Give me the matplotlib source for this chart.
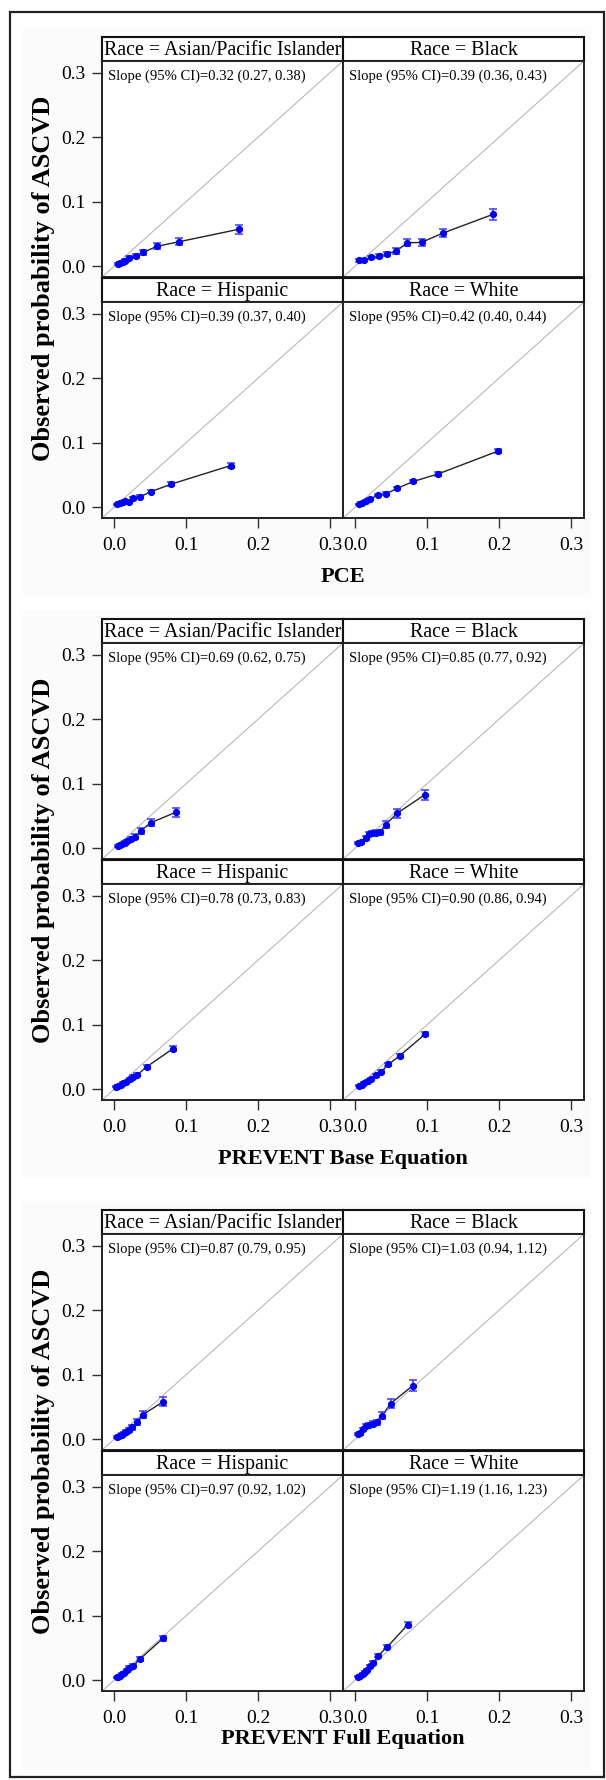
"""Calibration plots by race: observed ASCVD probability vs predicted risk (PCE, PREVENT base, PREVENT full)."""
import matplotlib
matplotlib.use("Agg")
import matplotlib.pyplot as plt
from matplotlib.patches import Rectangle
from matplotlib.ticker import FormatStrFormatter

plt.rcParams["font.family"] = ["Liberation Serif", "DejaVu Serif"]

W, H = 606, 1780

RACES = ["Asian/Pacific Islander", "Black", "Hispanic", "White"]
EQUATIONS = ["PCE", "PREVENT Base Equation", "PREVENT Full Equation"]
SLOPES = [
    ["0.32 (0.27, 0.38)", "0.39 (0.36, 0.43)", "0.39 (0.37, 0.40)", "0.42 (0.40, 0.44)"],
    ["0.69 (0.62, 0.75)", "0.85 (0.77, 0.92)", "0.78 (0.73, 0.83)", "0.90 (0.86, 0.94)"],
    ["0.87 (0.79, 0.95)", "1.03 (0.94, 1.12)", "0.97 (0.92, 1.02)", "1.19 (1.16, 1.23)"],
]
TICKS = [0.0, 0.1, 0.2, 0.3]

# --- PCE ---
pce_asian_x = [0.0046, 0.008, 0.0117, 0.015, 0.021, 0.030, 0.040, 0.059, 0.090, 0.173]
pce_asian_y = [0.0036, 0.0047, 0.0062, 0.0083, 0.0129, 0.0155, 0.0212, 0.0305, 0.0377, 0.057]
pce_asian_err = [0.0015, 0.0015, 0.0017, 0.002, 0.0025, 0.003, 0.0035, 0.0045, 0.0055, 0.007]
pce_black_x = [0.005, 0.0115, 0.022, 0.033, 0.0445, 0.057, 0.072, 0.092, 0.122, 0.191]
pce_black_y = [0.0088, 0.0093, 0.0134, 0.015, 0.019, 0.0233, 0.036, 0.0367, 0.0512, 0.080]
pce_black_err = [0.002, 0.002, 0.0025, 0.003, 0.0035, 0.004, 0.0055, 0.0055, 0.006, 0.008]
pce_hisp_x = [0.0042, 0.008, 0.0117, 0.015, 0.020, 0.0264, 0.036, 0.0506, 0.079, 0.162]
pce_hisp_y = [0.0042, 0.0057, 0.0072, 0.0088, 0.0082, 0.0134, 0.016, 0.0237, 0.0355, 0.0644]
pce_hisp_err = [0.001, 0.001, 0.0012, 0.0014, 0.0014, 0.0018, 0.002, 0.0025, 0.003, 0.004]
pce_white_x = [0.005, 0.0097, 0.0143, 0.0209, 0.0315, 0.043, 0.058, 0.0807, 0.1155, 0.198]
pce_white_y = [0.0042, 0.0067, 0.0093, 0.0124, 0.019, 0.0206, 0.0289, 0.0397, 0.0515, 0.0866]
pce_white_err = [0.0008, 0.001, 0.0012, 0.0014, 0.0018, 0.002, 0.0022, 0.0025, 0.003, 0.0035]

# --- PREVENT base ---
base_asian_x = [0.0047, 0.008, 0.0112, 0.0144, 0.018, 0.0228, 0.0288, 0.0367, 0.0506, 0.0862]
base_asian_y = [0.003, 0.0045, 0.006, 0.0083, 0.0103, 0.0134, 0.0176, 0.0268, 0.0392, 0.0558]
base_asian_err = [0.0015, 0.0015, 0.0017, 0.002, 0.0025, 0.003, 0.0035, 0.0045, 0.0055, 0.007]
base_black_x = [0.0036, 0.0083, 0.0143, 0.019, 0.0236, 0.029, 0.034, 0.042, 0.058, 0.0965]
base_black_y = [0.0078, 0.0088, 0.0155, 0.0217, 0.0233, 0.0238, 0.0243, 0.0362, 0.0538, 0.0827]
base_black_err = [0.002, 0.002, 0.0028, 0.0035, 0.0035, 0.0035, 0.0035, 0.0055, 0.0065, 0.008]
base_hisp_x = [0.0024, 0.0056, 0.0089, 0.0125, 0.0163, 0.0218, 0.0256, 0.032, 0.045, 0.081]
base_hisp_y = [0.0036, 0.0051, 0.0067, 0.0088, 0.0113, 0.015, 0.019, 0.0221, 0.0345, 0.0623]
base_hisp_err = [0.001, 0.0011, 0.0012, 0.0014, 0.0016, 0.0018, 0.002, 0.0022, 0.003, 0.004]
base_white_x = [0.005, 0.0088, 0.0125, 0.0171, 0.0222, 0.0282, 0.036, 0.0459, 0.0616, 0.0974]
base_white_y = [0.0051, 0.0067, 0.0093, 0.0124, 0.0159, 0.0212, 0.0268, 0.0381, 0.0515, 0.0855]
base_white_err = [0.0008, 0.001, 0.0012, 0.0014, 0.0016, 0.0018, 0.002, 0.0025, 0.003, 0.0035]

# --- PREVENT full ---
full_asian_x = [0.004, 0.007, 0.010, 0.013, 0.016, 0.020, 0.025, 0.031, 0.040, 0.068]
full_asian_y = [0.003, 0.005, 0.007, 0.009, 0.011, 0.014, 0.018, 0.026, 0.038, 0.058]
full_asian_err = [0.0015, 0.0015, 0.0017, 0.002, 0.0025, 0.003, 0.0035, 0.0045, 0.0055, 0.007]
full_black_x = [0.004, 0.007, 0.011, 0.015, 0.019, 0.024, 0.030, 0.037, 0.049, 0.080]
full_black_y = [0.008, 0.009, 0.015, 0.020, 0.022, 0.024, 0.026, 0.036, 0.055, 0.083]
full_black_err = [0.002, 0.002, 0.0028, 0.0035, 0.0035, 0.0035, 0.0035, 0.0055, 0.0065, 0.008]
full_hisp_x = [0.003, 0.005, 0.008, 0.011, 0.014, 0.017, 0.021, 0.026, 0.036, 0.068]
full_hisp_y = [0.004, 0.005, 0.007, 0.009, 0.011, 0.015, 0.019, 0.022, 0.033, 0.065]
full_hisp_err = [0.001, 0.0011, 0.0012, 0.0014, 0.0016, 0.0018, 0.002, 0.0022, 0.003, 0.004]
full_white_x = [0.004, 0.007, 0.010, 0.013, 0.016, 0.020, 0.025, 0.032, 0.044, 0.073]
full_white_y = [0.005, 0.007, 0.009, 0.012, 0.016, 0.021, 0.027, 0.038, 0.051, 0.086]
full_white_err = [0.0008, 0.001, 0.0012, 0.0014, 0.0016, 0.0018, 0.002, 0.0025, 0.003, 0.0035]

SERIES = [
    [(pce_asian_x, pce_asian_y, pce_asian_err), (pce_black_x, pce_black_y, pce_black_err),
     (pce_hisp_x, pce_hisp_y, pce_hisp_err), (pce_white_x, pce_white_y, pce_white_err)],
    [(base_asian_x, base_asian_y, base_asian_err), (base_black_x, base_black_y, base_black_err),
     (base_hisp_x, base_hisp_y, base_hisp_err), (base_white_x, base_white_y, base_white_err)],
    [(full_asian_x, full_asian_y, full_asian_err), (full_black_x, full_black_y, full_black_err),
     (full_hisp_x, full_hisp_y, full_hisp_err), (full_white_x, full_white_y, full_white_err)],
]


def px_axes(fig, left, top, w, h):
    return fig.add_axes([left / W, 1 - (top + h) / H, w / W, h / H])


def fig_rect(fig, left, top, w, h, **kw):
    fig.patches.append(Rectangle((left / W, 1 - (top + h) / H), w / W, h / H,
                                 transform=fig.transFigure, figure=fig, **kw))


fig = plt.figure(figsize=(W / 100, H / 100), dpi=100)
fig.patch.set_facecolor("white")

GROUP_TOP = [37, 619, 1210]
XLABEL_Y = [577, 1159, 1739]
PANEL_LEFT = [102, 343]
PANEL_W, PANEL_H, STRIP_H = 241, 216, 24
XLIM = (-0.0172, 0.318)
YLIM = (-0.017, 0.318)

# faint grey page behind each block
for g0 in GROUP_TOP:
    fig_rect(fig, 23, g0 - 9, 568, 568, facecolor="#fbfbfb", edgecolor="none", zorder=-10)
# outer frame
fig_rect(fig, 10, 12, 594, 1765, facecolor="none", edgecolor="#222222", linewidth=1.6, zorder=5)

for g, g0 in enumerate(GROUP_TOP):
    for k, race in enumerate(RACES):
        row, col = divmod(k, 2)
        left = PANEL_LEFT[col]
        strip_top = g0 + row * (STRIP_H + PANEL_H + 1)
        sax = px_axes(fig, left, strip_top, PANEL_W, STRIP_H)
        sax.set_xticks([])
        sax.set_yticks([])
        sax.set_facecolor("white")
        for s in sax.spines.values():
            s.set_linewidth(1.5)
            s.set_color("#111111")
        sax.text(0.5, 0.45, f"Race = {race}", ha="center", va="center",
                 fontsize=14.4, transform=sax.transAxes)

        ax = px_axes(fig, left, strip_top + STRIP_H, PANEL_W, PANEL_H)
        ax.set_facecolor("white")
        x, y, err = SERIES[g][k]
        ax.plot([-1, 1], [-1, 1], color="#b0b0b0", lw=0.7, zorder=1)
        ax.plot(x, y, color="#222222", lw=1.0, zorder=2)
        ax.errorbar(x, y, yerr=err, fmt="none", ecolor="#3a3aff", elinewidth=1.1,
                    capsize=2.6, capthick=1.1, zorder=3)
        ax.plot(x, y, "o", color="#0000ff", ms=4.2, mec="#0000ff", zorder=4)
        ax.text(0.025, 0.93, f"Slope (95% CI)={SLOPES[g][k]}", fontsize=10.5,
                ha="left", va="center", transform=ax.transAxes)
        ax.set_xlim(*XLIM)
        ax.set_ylim(*YLIM)
        for s in ax.spines.values():
            s.set_linewidth(1.4)
            s.set_color("#222222")
        ax.tick_params(direction="out", length=7, width=1, color="#333333",
                       labelsize=14, pad=5)
        if col == 0:
            ax.set_yticks(TICKS)
            ax.yaxis.set_major_formatter(FormatStrFormatter("%.1f"))
        else:
            ax.set_yticks([])
        if row == 1:
            ax.set_xticks(TICKS)
            ax.xaxis.set_major_formatter(FormatStrFormatter("%.1f"))
            ax.tick_params(axis="x", pad=7)
        else:
            ax.set_xticks([])

    fig.text(44 / W, 1 - (g0 + 241) / H, "Observed probability of ASCVD", rotation=90,
             ha="center", va="center", fontsize=19, fontweight="bold")
    fig.text(343 / W, 1 - XLABEL_Y[g] / H, EQUATIONS[g], ha="center", va="center",
             fontsize=16, fontweight="bold")

fig.savefig("out.png", dpi=100)
